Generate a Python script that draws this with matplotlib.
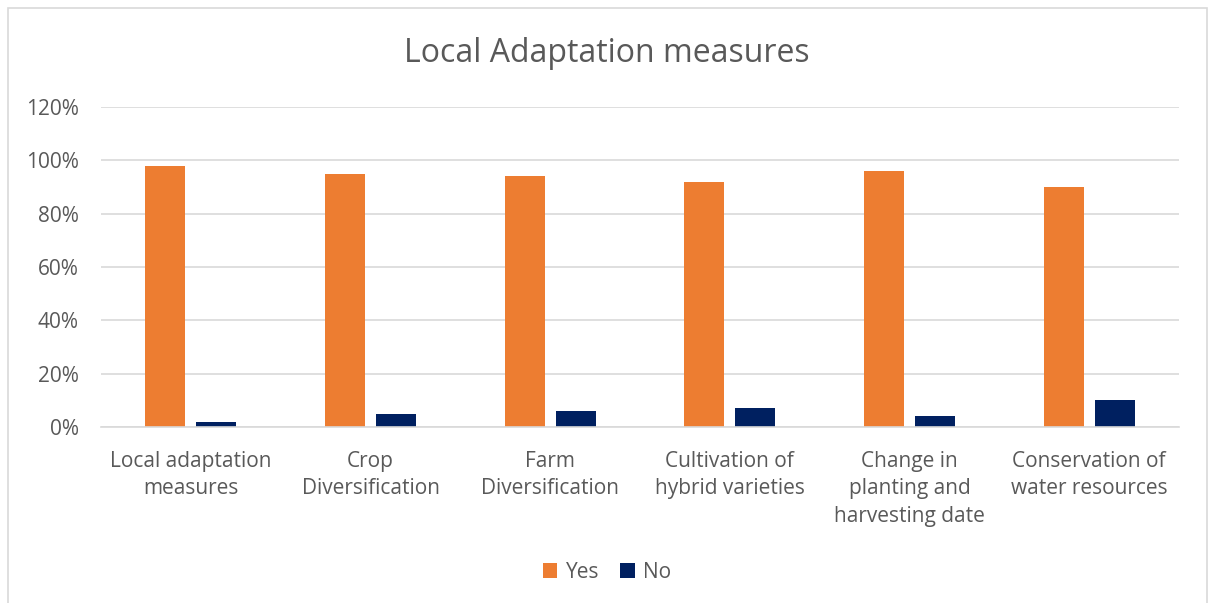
import matplotlib
matplotlib.use("Agg")
import matplotlib.pyplot as plt
import numpy as np
from matplotlib.patches import Rectangle

categories = ["Local adaptation\nmeasures", "Crop\nDiversification", "Farm\nDiversification",
              "Cultivation of\nhybrid varieties", "Change in\nplanting and\nharvesting date",
              "Conservation of\nwater resources"]
yes_vals = [98, 95, 94, 92, 96, 90]
no_vals = [2, 5, 6, 7, 4, 10]
series_names = ["Yes", "No"]
yticks = [0, 20, 40, 60, 80, 100, 120]

plt.rcParams['font.family'] = ['Open Sans', 'DejaVu Sans']
W, H = 1211, 603
fig = plt.figure(figsize=(W/100, H/100), dpi=100)
ax = fig.add_axes([101/W, 1-427/H, (1179-101)/W, 320/H])

x = np.arange(len(categories))
bw = 0.223
off = 0.142
ax.bar(x - off, yes_vals, bw, color="#ED7D31", label=series_names[0], zorder=3)
ax.bar(x + off, no_vals, bw, color="#002060", label=series_names[1], zorder=3)

ax.set_xlim(-0.5, len(categories) - 0.5)
ax.set_ylim(0, 120)
ax.set_yticks(yticks)
ax.set_yticklabels([f"{v}%" for v in yticks], color="#595959", fontsize=15)
ax.set_xticks(x)
ax.set_xticklabels(categories, color="#595959", fontsize=15, linespacing=1.42)
ax.tick_params(axis='x', length=0, pad=17)
ax.tick_params(axis='y', length=0, pad=16)
ax.grid(axis='y', color="#D9D9D9", linewidth=1.2, zorder=0)
for s in ["top", "right", "left"]:
    ax.spines[s].set_visible(False)
ax.spines["bottom"].set_color("#D9D9D9")
ax.spines["bottom"].set_linewidth(1.2)
ax.spines["bottom"].set_zorder(4)

fig.text(607/W, 1-53/H, "Local Adaptation measures", ha="center", va="center",
         fontsize=23, color="#595959")

fig.legend(loc="center", bbox_to_anchor=(607/W, 1-572/H), ncol=2, frameon=False,
           fontsize=15, labelcolor="#595959", handlelength=0.7, handleheight=0.7,
           handletextpad=0.4, columnspacing=1.0)

fig.patches.append(Rectangle((8/W, -0.01), (1207-8)/W, 1-8/H+0.01, transform=fig.transFigure,
                             fill=False, edgecolor="#D9D9D9", linewidth=1.2))

fig.savefig("out.png", dpi=100)
